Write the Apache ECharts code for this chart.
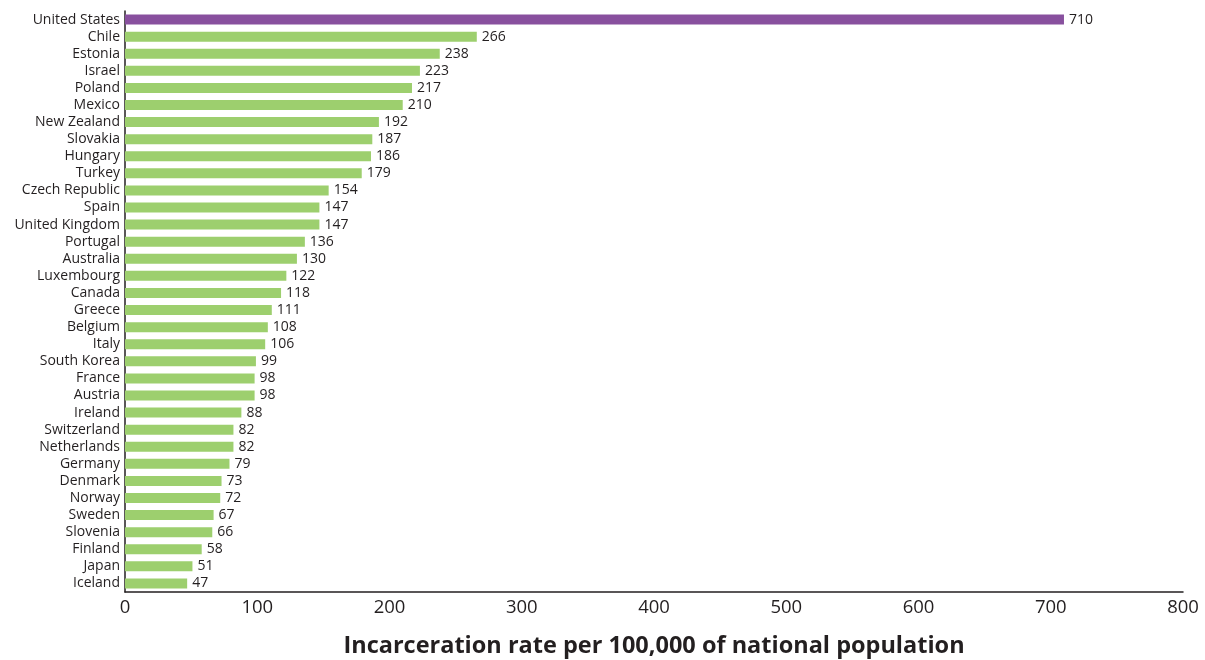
<!DOCTYPE html>
<html><head><meta charset="utf-8">
<script src="https://cdn.jsdelivr.net/npm/echarts@6/dist/echarts.min.js"></script>
<style>html,body{margin:0;padding:0;background:#fff}#c{width:1205px;height:660px}</style>
</head><body><div id="c"></div>
<script>
const countries = ["United States","Chile","Estonia","Israel","Poland","Mexico","New Zealand","Slovakia","Hungary","Turkey","Czech Republic","Spain","United Kingdom","Portugal","Australia","Luxembourg","Canada","Greece","Belgium","Italy","South Korea","France","Austria","Ireland","Switzerland","Netherlands","Germany","Denmark","Norway","Sweden","Slovenia","Finland","Japan","Iceland"];
const rates = [710,266,238,223,217,210,192,187,186,179,154,147,147,136,130,122,118,111,108,106,99,98,98,88,82,82,79,73,72,67,66,58,51,47];
const xTicks = [0,100,200,300,400,500,600,700,800];
const axisTitle = "Incarceration rate per 100,000 of national population";
const font = "'Open Sans', 'Liberation Sans', sans-serif";
const chart = echarts.init(document.getElementById('c'));
chart.setOption({
  animation:false,
  grid:{left:125,right:22,top:11,bottom:68,containLabel:false,outerBoundsMode:'none'},
  xAxis:{type:'value',min:xTicks[0],max:xTicks[xTicks.length-1],interval:100,
    axisLine:{show:true,lineStyle:{color:'#231f20',width:1.5}},
    axisTick:{show:false},splitLine:{show:false},
    axisLabel:{color:'#231f20',fontSize:18.5,fontFamily:font,margin:6},
    name:axisTitle,nameLocation:'middle',nameGap:42,
    nameTextStyle:{color:'#231f20',fontSize:23.5,fontWeight:'bold',fontFamily:font}},
  yAxis:{type:'category',data:countries,inverse:true,
    axisLine:{show:true,lineStyle:{color:'#231f20',width:1.5}},
    axisTick:{show:false},
    axisLabel:{interval:0,color:'#231f20',fontSize:14,fontFamily:font,margin:5}},
  series:[{type:'bar',barWidth:10,
    data:rates.map((v,i)=>({value:v,itemStyle:{color:i===0?'#88509e':'#9dcf6e'}})),
    label:{show:true,position:'right',distance:5,color:'#231f20',fontSize:14,fontFamily:font}}]
});
</script></body></html>
